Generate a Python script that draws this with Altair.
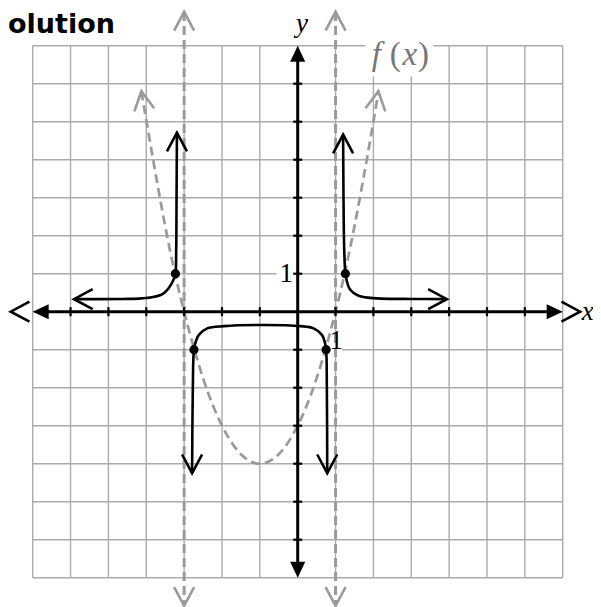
import altair as alt
import pandas as pd

# ---------------- data ----------------
grid_values = list(range(-7, 8))
axis_tick_values = [-6, -5, -4, -3, -2, -1, 1, 2, 3, 4, 5, 6]

# dashed parabola f(x)
f_x = [-4.13, -3.5, -3, -2.5, -2, -1.5, -1, -0.5, 0, 0.5, 1, 1.5, 2, 2.13]
f_y = [5.8, 2.25, 0, -1.75, -3, -3.75, -4, -3.75, -3, -1.75, 0, 2.25, 5, 5.8]

# solid reciprocal branches
left_x = [-5.91, -4.6, -4.2, -3.85, -3.62, -3.50, -3.40, -3.29, -3.23, -3.21, -3.20, -3.19]
left_y = [0.33, 0.335, 0.345, 0.38, 0.44, 0.52, 0.63, 0.82, 1.0, 1.6, 3.0, 4.71]

mid_x = [-2.79, -2.77, -2.74, -2.69, -2.61, -2.39, -1.95, -0.90, 0.07, 0.42, 0.64, 0.71, 0.75, 0.77, 0.78]
mid_y = [-4.25, -2.0, -0.99, -0.78, -0.61, -0.44, -0.38, -0.35, -0.38, -0.44, -0.61, -0.78, -0.99, -2.0, -4.25]

right_x = [1.20, 1.21, 1.23, 1.26, 1.30, 1.36, 1.47, 1.61, 1.85, 2.2, 3.0, 3.94]
right_y = [4.66, 3.0, 1.6, 1.0, 0.80, 0.62, 0.50, 0.42, 0.37, 0.345, 0.335, 0.33]

# vertical asymptotes
asym_x = [-3, 1]
asym_top = [7.89, 7.89]
asym_bottom = [-7.74, -7.74]

# points on the reciprocal
dots_x = [-3.23, 1.26, -2.74, 0.75]
dots_y = [1, 1, -1, -1]

# open arrow heads
black_arrow_x = [-5.91, -3.19, 3.94, 1.20, -2.79, 0.78, -7.58, 7.46]
black_arrow_y = [0.33, 4.71, 0.33, 4.66, -4.25, -4.25, 0, 0]
black_arrow_angle = [270, 0, 90, 0, 180, 180, 270, 90]

gray_arrow_x = [-3, 1, -3, 1, -4.13, 2.13]
gray_arrow_y = [7.89, 7.89, -7.74, -7.74, 5.8, 5.8]
gray_arrow_angle = [0, 0, 180, 180, 351, 9]

# filled axis heads
axis_head_x = [-7, 7, 0, 0]
axis_head_y = [0, 0, 7, -7]
axis_head_angle = [270, 90, 0, 180]

# white label backgrounds
bg_x1 = [1.79, -0.56, 0.87]
bg_x2 = [3.58, -0.12, 1.17]
bg_y1 = [6.19, 0.62, -0.52]
bg_y2 = [7.6, 1.38, -1.07]

# labels
label_text = ["1", "1"]
label_x = [-0.30, 1.02]
label_y = [1.0, -0.77]

var_text = ["x", "y"]
var_x = [7.66, 0.11]
var_y = [-0.22, 7.36]

fx_italic_text = ["f", "x"]
fx_italic_x = [2.08, 2.96]
fx_upright_text = ["(", ")"]
fx_upright_x = [2.58, 3.32]
fx_baseline = 6.5

# ---------------- chart ----------------
X = alt.Scale(domain=[-7, 7], nice=False, zero=False)
Y = alt.Scale(domain=[-7, 7], nice=False, zero=False)

def xq(f):
    return alt.X(f, type="quantitative", scale=X, axis=None)

def yq(f):
    return alt.Y(f, type="quantitative", scale=Y, axis=None)

GRID = "#ababab"
DASH = "#9a9a9a"
FXCOL = "#777777"
CHEVRON = "M -1 1.87 L 0 0 L 1 1.87"
TRI = "M 0 0 L -0.47 1 L 0.47 1 Z"

grid_df = pd.DataFrame({"v": grid_values, "lo": -7, "hi": 7})
vgrid = alt.Chart(grid_df).mark_rule(color=GRID, strokeWidth=1.4).encode(
    x=xq("v"), y=yq("lo"), y2="hi")
hgrid = alt.Chart(grid_df).mark_rule(color=GRID, strokeWidth=1.4).encode(
    y=yq("v"), x=xq("lo"), x2="hi")

bg_df = pd.DataFrame({"x1": bg_x1, "x2": bg_x2, "y1": bg_y1, "y2": bg_y2})
bg = alt.Chart(bg_df).mark_rect(color="white", opacity=1).encode(
    x=xq("x1"), x2="x2", y=yq("y1"), y2="y2")

asym_df = pd.DataFrame({"x": asym_x, "t": asym_top, "b": asym_bottom})
asym = alt.Chart(asym_df).mark_rule(color=DASH, strokeWidth=3, strokeDash=[9, 5]).encode(
    x=xq("x"), y=yq("t"), y2="b")

f_df = pd.DataFrame({"x": f_x, "y": f_y, "i": range(len(f_x))})
parab = alt.Chart(f_df).mark_line(color=DASH, strokeWidth=2.7, strokeDash=[9, 5],
                                  interpolate="natural").encode(
    x=xq("x"), y=yq("y"), order="i:Q")

gray_df = pd.DataFrame({"x": gray_arrow_x, "y": gray_arrow_y, "a": gray_arrow_angle})
gray_heads = alt.Chart(gray_df).mark_point(shape=CHEVRON, filled=False, color=DASH,
                                           strokeWidth=2.6, size=400, opacity=1).encode(
    x=xq("x"), y=yq("y"), angle=alt.Angle("a:Q", scale=None))

x_axis = alt.Chart(pd.DataFrame({"x1": [-6.7], "x2": [6.7], "y": [0]})).mark_rule(
    color="black", strokeWidth=3).encode(x=xq("x1"), x2="x2", y=yq("y"))
y_axis = alt.Chart(pd.DataFrame({"y1": [-6.7], "y2": [6.7], "x": [0]})).mark_rule(
    color="black", strokeWidth=3).encode(y=yq("y1"), y2="y2", x=xq("x"))

tick_df = pd.DataFrame({"v": axis_tick_values, "z": 0})
x_ticks = alt.Chart(tick_df).mark_tick(orient="vertical", size=9, thickness=2.2,
                                       color="black", opacity=1).encode(x=xq("v"), y=yq("z"))
y_ticks = alt.Chart(tick_df).mark_tick(orient="horizontal", size=9, thickness=2.2,
                                       color="black", opacity=1).encode(y=yq("v"), x=xq("z"))

head_df = pd.DataFrame({"x": axis_head_x, "y": axis_head_y, "a": axis_head_angle})
heads = alt.Chart(head_df).mark_point(shape=TRI, filled=True, color="black",
                                      size=1024, opacity=1, strokeWidth=0).encode(
    x=xq("x"), y=yq("y"), angle=alt.Angle("a:Q", scale=None))

def branch(xs, ys):
    d = pd.DataFrame({"x": xs, "y": ys, "i": range(len(xs))})
    return alt.Chart(d).mark_line(color="black", strokeWidth=2.6,
                                  interpolate="catmull-rom").encode(
        x=xq("x"), y=yq("y"), order="i:Q")

left = branch(left_x, left_y)
mid = branch(mid_x, mid_y)
right = branch(right_x, right_y)

black_df = pd.DataFrame({"x": black_arrow_x, "y": black_arrow_y, "a": black_arrow_angle})
black_heads = alt.Chart(black_df).mark_point(shape=CHEVRON, filled=False, color="black",
                                             strokeWidth=2.6, size=400, opacity=1).encode(
    x=xq("x"), y=yq("y"), angle=alt.Angle("a:Q", scale=None))

dots = alt.Chart(pd.DataFrame({"x": dots_x, "y": dots_y})).mark_circle(
    size=85, color="black", opacity=1).encode(x=xq("x"), y=yq("y"))

lab_df = pd.DataFrame({"t": label_text, "x": label_x, "y": label_y})
labels = alt.Chart(lab_df).mark_text(font="Liberation Serif", fontSize=27,
                                     align="center", baseline="middle", color="black").encode(
    x=xq("x"), y=yq("y"), text="t:N")

var_df = pd.DataFrame({"t": var_text, "x": var_x, "y": var_y})
var_labels = alt.Chart(var_df).mark_text(font="Liberation Serif", fontSize=27, fontStyle="italic",
                                         align="center", baseline="alphabetic", color="black").encode(
    x=xq("x"), y=yq("y"), text="t:N")

fxi_df = pd.DataFrame({"t": fx_italic_text, "x": fx_italic_x, "y": fx_baseline})
fx_italic = alt.Chart(fxi_df).mark_text(font="Liberation Serif", fontSize=33, fontStyle="italic",
                                        align="center", baseline="alphabetic", color=FXCOL).encode(
    x=xq("x"), y=yq("y"), text="t:N")
fxu_df = pd.DataFrame({"t": fx_upright_text, "x": fx_upright_x, "y": fx_baseline})
fx_upright = alt.Chart(fxu_df).mark_text(font="Liberation Serif", fontSize=33,
                                         align="center", baseline="alphabetic", color=FXCOL).encode(
    x=xq("x"), y=yq("y"), text="t:N")

title = alt.Chart(pd.DataFrame({"t": ["olution"]})).mark_text(
    font="DejaVu Sans", fontSize=27, fontWeight="bold", align="left", baseline="alphabetic",
    color="black").encode(x=alt.value(-24.7), y=alt.value(-12.5), text="t:N")

chart = alt.layer(
    vgrid, hgrid, bg, asym, parab, gray_heads, x_axis, y_axis, x_ticks, y_ticks, heads,
    left, mid, right, black_heads, dots, labels, var_labels, fx_italic, fx_upright, title
).properties(
    width=530, height=532,
    autosize=alt.AutoSizeParams(type="none"),
    padding={"left": 24.7, "top": 37.7, "right": 30.3, "bottom": 29.3},
).configure_view(stroke=None)

chart.save("out.html", embed_options={"renderer": "svg", "actions": False})
